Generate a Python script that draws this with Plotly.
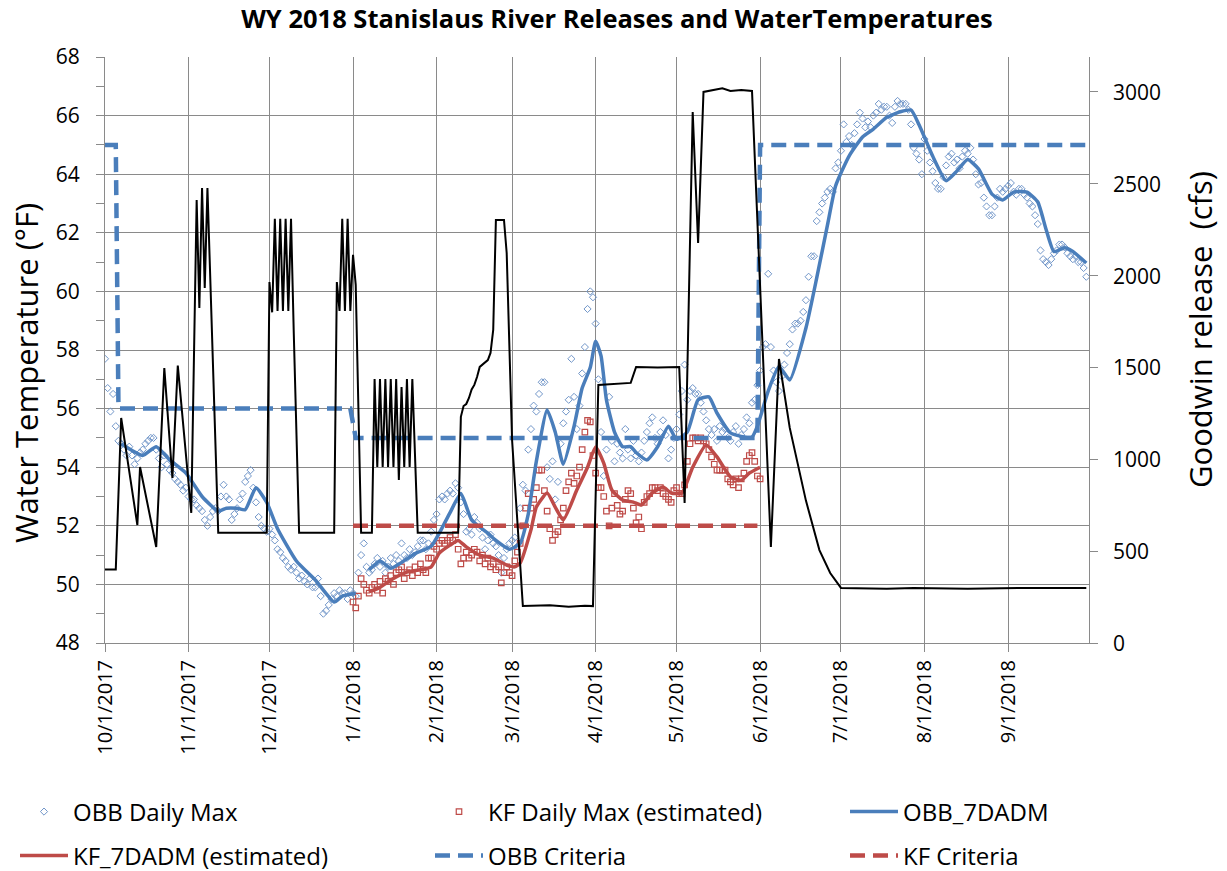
import pandas as pd
import plotly.graph_objects as go

START = pd.Timestamp("2017-10-01")  # day 0 of water year 2018

tick_dates = ["2017-10-01", "2017-11-01", "2017-12-01", "2018-01-01", "2018-02-01", "2018-03-01",
              "2018-04-01", "2018-05-01", "2018-06-01", "2018-07-01", "2018-08-01", "2018-09-01"]
tick_labels = ["10/1/2017", "11/1/2017", "12/1/2017", "1/1/2018", "2/1/2018", "3/1/2018",
               "4/1/2018", "5/1/2018", "6/1/2018", "7/1/2018", "8/1/2018", "9/1/2018"]
temp_ticks = [48, 50, 52, 54, 56, 58, 60, 62, 64, 66, 68]
flow_ticks = [0, 500, 1000, 1500, 2000, 2500, 3000]

# OBB daily max water temperature (deg F), one value per day starting 10/1/2017
obb_daily_max = [
    57.7, 56.7, 55.9, 56.5, 55.4, 54.9, 54.8, 54.6, 54.4, 54.7,
    54.4, 54.1, 54.3, 54.5, 54.6, 54.8, 54.9, 55.0, 55.0, 54.6,
    54.3, 54.0, 54.4, 54.1, 53.9, 53.8, 53.6, 53.5, 53.4, 53.2,
    53.3, 53.0, 52.9, 52.9, 52.7, 52.6, 52.5, 52.2, 52.0, 52.3,
    52.5, 52.6, 52.5, 53.0, 53.4, 53.0, 52.9, 52.2, 52.4, 52.6,
    52.9, 53.1, 53.5, 53.7, 53.9, 53.3, 52.8, 52.3, 52.0, 51.9,
    51.8, 51.9, 51.7, 51.5, 51.2, 51.1, 50.9, 50.8, 50.6, 50.5,
    50.6, 50.4, 50.2, 50.3, 50.1, 50.0, 50.2, 49.9, 49.9, 50.2,
    49.6, 49.0, 49.1, 49.3, 49.5, 49.7, 49.6, 49.8, 49.7, 49.7,
    49.5, 49.8, 49.7, 49.6, 50.4, 51.0, 51.4, 50.6, 50.4, 50.5,
    50.7, 50.9, 50.6, 50.8, 50.4, 50.6, 50.9, 50.7, 51.0, 50.8,
    51.4, 51.0, 50.9, 51.2, 51.0, 51.1, 51.3, 51.5, 51.5, 51.2,
    51.4, 51.8, 52.2, 52.4, 52.9, 53.0, 52.9, 53.1, 53.2, 53.1,
    53.45, 53.3, 52.8, 52.4, 51.8, 51.9, 51.7, 52.3, 52.1, 51.9,
    51.6, 51.2, 51.5, 51.7, 51.4, 51.3, 51.0, 50.4, 50.9, 51.2,
    51.4, 51.5, 51.6, 51.3, 52.6, 53.4, 53.2, 54.6, 55.3, 56.1,
    55.9, 56.5, 56.9, 56.9, 54.0, 53.6, 54.2, 52.9, 53.5, 54.8,
    55.5, 55.9, 56.3, 57.7, 56.4, 55.3, 56.1, 57.2, 58.1, 59.4,
    60.0, 59.8, 58.9, 57.0, 55.2, 53.7, 54.6, 56.4, 54.9, 54.2,
    54.8, 54.5, 54.3, 55.3, 54.6, 54.3, 54.9, 54.4, 54.2, 54.5,
    54.9, 55.2, 55.5, 55.7, 55.0, 54.8, 55.2, 55.6, 55.1, 54.3,
    54.6, 55.0, 55.3, 55.8, 56.6, 57.5, 56.3, 56.6, 56.7, 56.5,
    56.5, 56.2, 55.9, 55.6, 55.3, 55.1, 55.3, 54.9, 55.4, 55.2,
    55.3, 55.0, 54.9, 55.2, 55.4, 54.8, 55.1, 55.3, 55.7, 55.5,
    56.2, 56.3, 56.8, 57.3, 58.1, 58.2, 60.6, 58.1, 57.3, 56.9,
    56.6, 57.1, 57.5, 57.9, 58.2, 58.7, 58.9, 58.9, 59.0, 59.3,
    59.7, 60.5, 61.2, 61.2, 62.4, 62.7, 63.0, 63.2, 63.4, 63.5,
    63.4, 64.2, 64.4, 64.8, 65.7, 65.1, 65.3, 65.0, 65.4, 65.7,
    66.1, 65.9, 65.6, 65.8, 65.6, 66.0, 66.1, 66.4, 66.2, 66.3,
    66.3, 66.0, 65.75, 66.3, 66.5, 66.4, 66.4, 66.4, 66.2, 65.7,
    64.9, 64.7, 64.5, 64.0, 65.2, 64.8, 64.4, 64.1, 63.7, 63.5,
    63.5, 63.9, 64.3, 64.6, 64.7, 64.4, 64.5, 64.2, 64.6, 64.8,
    64.7, 64.9, 64.5, 64.0, 63.65, 63.7, 63.2, 62.9, 62.6, 62.6,
    62.9, 63.2, 63.5, 63.4, 63.5, 63.6, 63.7, 63.4, 63.3, 63.5,
    63.5, 63.3, 63.2, 63.0, 62.9, 62.6, 62.3, 61.4, 61.1, 61.0,
    60.9, 61.1, 61.3, 61.4, 61.6, 61.6, 61.5, 61.3, 61.2, 61.1,
    61.2, 61.0, 61.0, 60.8, 60.5,
]

# KF daily max (estimated), one value per day starting at day 92 (1/1/2018)
kf_first_day = 92
kf_daily_max = [
    49.4, 49.2, 49.6, 50.2, 50.0, 49.8, 49.7, 49.9, 50.0, 49.8,
    50.1, 49.7, 50.2, 50.1, 50.3, 50.0, 50.4, 50.5, 50.6, 50.2,
    50.4, 50.5, 50.3, 50.6, 50.4, 50.7, 50.5, 50.4, 50.9, 50.9,
    51.3, 51.2, 51.4, 51.5, 51.4, 51.5, 51.6, 51.5, 51.7, 51.2,
    50.7, 50.9, 51.1, 50.9, 51.0, 51.2, 51.1, 50.8, 51.0, 50.7,
    50.9, 50.6, 50.7, 50.5, 50.6, 50.05, 50.4, 50.6, 50.4, 50.3,
    50.8, 51.1, 51.4, 52.0, 52.6, 53.1, 52.6, 52.9, 53.3, 53.9,
    53.9, 53.2, 52.5, 51.9, 51.5, 51.7, 51.8, 52.2, 52.6, 53.2,
    53.5, 53.8, 53.45, 53.7, 54.0, 54.6, 55.2, 55.6, 55.55, 54.4,
    53.8, 53.3, 53.3, 53.0, 52.5, 52.0, 52.6, 53.1, 52.7, 52.4,
    52.5, 52.9, 53.2, 53.1, 52.6, 52.1, 52.3, 51.9, 52.8, 53.0,
    53.1, 53.3, 53.3, 53.2, 53.3, 53.1, 53.0, 52.9, 52.8, 53.2,
    53.3, 53.1, 53.1, 53.4, 54.2, 54.8, 55.0, 55.0, 54.9, 55.0,
    54.9, 54.8, 54.6, 54.35, 54.1, 53.9, 53.9, 53.9, 53.9, 53.6,
    53.5, 53.4, 53.6, 53.3, 53.6, 53.8, 54.2, 54.4, 54.5, 54.2,
    53.7, 53.6,
]

# OBB 7-day average daily max (day of water year, deg F); None = gap
obb7_days = [6, 14, 19, 24, 30, 36, 42, 45, 49, 52, 56, 60, 64, 71, 78, 85, 88, 93, 95,
             98, 102, 106, 110, 115, 121, 124, 128, 132, 136, 142, 145, 150, 154, 157, 160,
             164, 167, 170, 174, 177, 180, 182, 184, 186, 189, 192, 195, 197, 201, 205, 209,
             212, 216, 220, 224, 227, 232, 237, 240, 242, 246, 250, 254, 260, 264, 268, 271,
             276, 281, 285, 290, 295, 299, 302, 307, 312, 316, 320, 324, 329, 333, 337, 342,
             346, 349, 352, 356, 359, 364]
obb7_vals = [54.8, 54.4, 54.7, 54.25, 53.8, 53.0, 52.5, 52.6, 52.6, 52.55, 53.3, 52.8, 51.9,
             50.8, 50.15, 49.4, 49.6, 49.7, None,
             50.5, 50.8, 50.55, 50.75, 51.05, 51.3, 51.75, 52.45, 53.1, 52.2, 51.75, 51.5,
             51.2, 51.4, 52.4, 54.2, 55.95, 55.2, 54.1, 55.4, 56.7, 57.4, 58.3, 57.8, 56.3,
             55.2, 54.7, 54.7, 54.5, 54.25, 54.7, 55.4, 54.95, 55.2, 56.3, 56.4, 55.85, 55.17,
             55.03, 55.03, 55.4, 56.6, 57.44, 56.98, 58.75, 60.46, 62.27, 63.6, 64.62, 65.27,
             65.54, 65.94, 66.13, 66.19, 65.68, 64.62, 63.78, 64.11, 64.5, 64.18, 63.32,
             63.12, 63.39, 63.39, 63.05, 62.14, 61.36, 61.49, 61.36, 60.97]

# KF 7-day average daily max (estimated)
kf7_days = [98, 102, 107, 112, 117, 121, 124, 128, 131, 134, 139, 144, 149, 152, 154, 158,
            160, 164, 167, 170, 175, 179, 182, 185, 188, 192, 196, 199, 203, 207, 210, 214,
            218, 223, 227, 232, 236, 239, 243]
kf7_vals = [49.75, 49.9, 50.2, 50.42, 50.5, 50.6, 51.07, 51.34, 51.5, 51.28, 51.0, 50.9,
            50.66, 50.6, 50.73, 51.86, 52.64, 53.12, 52.64, 52.2, 53.22, 54.0, 54.69, 54.14,
            53.22, 52.88, 52.81, 52.71, 53.12, 53.32, 53.12, 53.12, 54.0, 54.76, 54.35,
            53.67, 53.56, 53.8, 54.0]

# Temperature criteria
obb_crit_days = [0, 4, 5, 91, 93, 242, 243, 364]
obb_crit_vals = [65, 65, 56, 56, 55, 55, 65, 65]
kf_crit_days = [92, 242]
kf_crit_vals = [52, 52]

# Goodwin release (cfs)
rel_days = [0, 4, 6, 12, 13, 19, 22, 25, 27, 32, 34, 35, 36, 37, 38, 42,
            60, 61, 62, 63, 64, 65, 66, 67, 68, 69, 70, 72,
            85, 86, 87, 88, 89, 90, 91, 92, 93, 95,
            99, 100, 101, 102, 103, 104, 105, 106, 107, 108, 109, 110, 111, 112, 113, 114, 116,
            131, 132, 133, 134, 135, 136, 137, 138, 139, 142, 143, 144, 145, 148, 149, 151, 155,
            165, 172, 178, 181, 183, 190, 195, 197, 205, 213, 215, 218, 220, 222, 226, 229,
            232, 236, 240, 247, 250, 254, 260, 265, 269, 273, 290, 300, 320, 340, 364]
rel_cfs = [400, 400, 1225, 642, 958, 523, 1497, 898, 1510, 708, 2412, 1824, 2477, 1933, 2477, 600,
           600, 1965, 1800, 2309, 1808, 2309, 1808, 2309, 1808, 2309, 1700, 600,
           600, 1965, 1808, 2309, 1808, 2309, 1808, 2113, 1950, 600,
           600, 1437, 958, 1437, 958, 1437, 958, 1437, 958, 1437, 887, 1394, 958, 1437, 958, 1437, 600,
           600, 1231, 1290, 1301, 1334, 1380, 1405, 1448, 1503, 1540, 1579, 1704, 2303, 2303, 2123, 1105, 201,
           205, 198, 203, 201, 1405, 1410, 1416, 1503, 1500, 1503, 762, 2891, 2178, 3000, 3010, 3020,
           3005, 3010, 3005, 523, 1546, 1171, 775, 506, 381, 300, 295, 300, 295, 300, 300]


def to_dates(days):
    return [START + pd.Timedelta(days=d) for d in days]


FONT = "Open Sans, Liberation Sans, Arial, sans-serif"
BLUE = "#4a7ebb"
RED = "#be4b48"
GRID = "#8a8a8a"

fig = go.Figure()

fig.add_trace(go.Scatter(
    x=to_dates(range(len(obb_daily_max))), y=obb_daily_max, mode="markers",
    name="OBB Daily Max", legend="legend",
    marker=dict(symbol="diamond-open", size=5.5, color="#7196c9", line=dict(width=1))))
fig.add_trace(go.Scatter(
    x=to_dates(range(kf_first_day, kf_first_day + len(kf_daily_max))), y=kf_daily_max,
    mode="markers", name="KF Daily Max (estimated)", legend="legend2",
    marker=dict(symbol="square-open", size=5.5, color=RED, line=dict(width=1.2))))
fig.add_trace(go.Scatter(
    x=to_dates(obb7_days), y=obb7_vals, mode="lines", name="OBB_7DADM", legend="legend3",
    line=dict(color=BLUE, width=3.5, shape="spline", smoothing=0.5), connectgaps=False))
fig.add_trace(go.Scatter(
    x=to_dates(kf7_days), y=kf7_vals, mode="lines", name="KF_7DADM (estimated)", legend="legend4",
    line=dict(color=RED, width=3.5, shape="spline", smoothing=0.5)))
fig.add_trace(go.Scatter(
    x=to_dates(obb_crit_days), y=obb_crit_vals, mode="lines", name="OBB Criteria", legend="legend5",
    line=dict(color=BLUE, width=4.5, dash="15px,8px")))
fig.add_trace(go.Scatter(
    x=to_dates(kf_crit_days), y=kf_crit_vals, mode="lines", name="KF Criteria", legend="legend6",
    line=dict(color=RED, width=4.5, dash="15px,8px")))
fig.add_trace(go.Scatter(
    x=to_dates(rel_days), y=rel_cfs, mode="lines", name="Goodwin release", yaxis="y2",
    showlegend=False, line=dict(color="black", width=2)))

# Figure fills the page (body margin removed by post_script below)
W, H = 1227, 871
PLOT_L, PLOT_R, PLOT_T, PLOT_B = 105, 1089, 57, 643
PW, PH = PLOT_R - PLOT_L, PLOT_B - PLOT_T


def px_x(page_x):
    return (page_x - PLOT_L) / PW


def px_y(page_y):
    return (PLOT_B - page_y) / PH


leg_common = dict(orientation="v", xanchor="left", yanchor="middle", bgcolor="rgba(0,0,0,0)",
                  font=dict(family=FONT, size=24, color="black"), itemwidth=48,
                  borderwidth=0)
legend_pos = {  # page coords of legend left edge and row centre
    "legend": (15, 812), "legend2": (430, 812), "legend3": (845, 812),
    "legend4": (15, 856), "legend5": (430, 856), "legend6": (845, 856),
}
leg_layout = {k: dict(leg_common, x=px_x(v[0]), y=px_y(v[1])) for k, v in legend_pos.items()}

# Right-axis tick labels, placed on the y2 scale with a wider gap from the axis
flow_labels = [dict(text=str(v), xref="paper", yref="y2", x=px_x(1111), y=v,
                    xanchor="left", yanchor="middle", showarrow=False,
                    font=dict(family=FONT, size=21, color="black")) for v in flow_ticks]

fig.update_layout(
    width=W, height=H,
    margin=dict(l=PLOT_L, r=W - PLOT_R, t=PLOT_T, b=H - PLOT_B, autoexpand=False),
    paper_bgcolor="white", plot_bgcolor="white",
    font=dict(family=FONT, color="black"),
    title=dict(text="WY 2018 Stanislaus River Releases and WaterTemperatures",
               x=617 / W, xanchor="center", y=1 - 19 / H, yanchor="middle",
               yref="container",
               font=dict(family=FONT, size=25.5, weight="bold", color="black")),
    xaxis=dict(type="date", range=[START, START + pd.Timedelta(days=365)],
               tickvals=tick_dates, ticktext=tick_labels, tickangle=-90,
               tickfont=dict(family=FONT, size=20, color="black"),
               showgrid=True, gridcolor=GRID, gridwidth=1,
               ticks="outside", ticklen=8, tickcolor=GRID,
               showline=True, linecolor=GRID, linewidth=1, zeroline=False),
    yaxis=dict(range=[48, 68], tickvals=temp_ticks,
               tickfont=dict(family=FONT, size=21, color="black"),
               showgrid=True, gridcolor=GRID, gridwidth=1,
               ticks="outside", ticklen=8, tickcolor=GRID,
               minor=dict(dtick=1, ticks="outside", ticklen=8, tickcolor=GRID, showgrid=False),
               showline=True, linecolor=GRID, linewidth=1, zeroline=False,
               ticklabelstandoff=12),
    yaxis2=dict(range=[0, 3190], tickvals=flow_ticks, showticklabels=False,
                overlaying="y", side="right",
                showgrid=False, ticks="outside", ticklen=8, tickcolor=GRID,
                showline=True, linecolor=GRID, linewidth=1, zeroline=False),
    annotations=[
        dict(text="Water Temperature (°F)", xref="paper", yref="paper", x=px_x(26), y=px_y(373),
             textangle=-90, showarrow=False, font=dict(family=FONT, size=31, color="black"),
             xanchor="center", yanchor="middle"),
        dict(text="Goodwin release  (cfs)", xref="paper", yref="paper", x=px_x(1200), y=px_y(330),
             textangle=-90, showarrow=False, font=dict(family=FONT, size=31, color="black"),
             xanchor="center", yanchor="middle"),
    ] + flow_labels,
    **leg_layout,
)

fig.write_html("out.html", config={"displayModeBar": False},
               post_script="document.body.style.margin='0';")
